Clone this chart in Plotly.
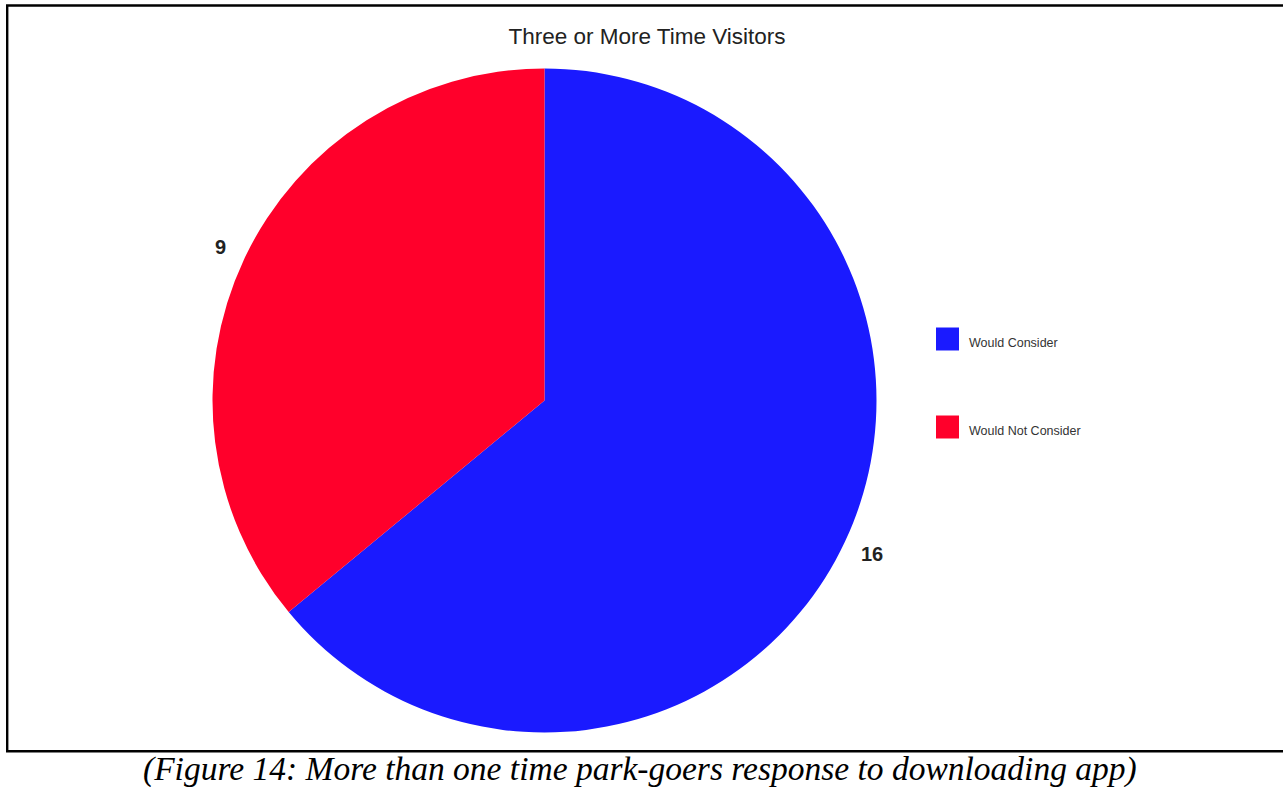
import math
import plotly.graph_objects as go

# Survey responses of three-or-more-time visitors
labels = ["Would Consider", "Would Not Consider"]
values = [16, 9]
colors = ["#1A1AFF", "#FF002B"]

title_text = "Three or More Time Visitors"
caption_text = "(Figure 14: More than one time park-goers response to downloading app)"

SANS = "'Liberation Sans', Arial, sans-serif"
SERIF = "'Liberation Serif', 'Times New Roman', serif"

W, H = 1283, 787


def px(x):
    return x / W


def py(y):
    return 1 - y / H


# pie geometry (pixels)
cx, cy, r = 544.5, 400.5, 332
label_r = 360

fig = go.Figure()
fig.add_trace(go.Pie(
    labels=labels,
    values=values,
    marker=dict(colors=colors, line=dict(width=0)),
    sort=False,
    direction="clockwise",
    rotation=0,
    textinfo="none",
    domain=dict(x=[px(cx - r), px(cx + r)], y=[py(cy + r), py(cy - r)]),
    showlegend=False,
    hoverinfo="label+value+percent",
))

shapes = [
    # frame around the chart
    dict(type="rect", xref="paper", yref="paper",
         x0=px(7.2), x1=1.05, y0=py(751.3), y1=py(5.5),
         line=dict(color="black", width=2.4), fillcolor="rgba(0,0,0,0)", layer="above"),
]
annotations = [
    dict(text=caption_text, xref="paper", yref="paper", x=px(640), y=py(768.5),
         xanchor="center", yanchor="middle", showarrow=False,
         font=dict(family=SERIF, size=33.5, color="black", style="italic")),
]

# value labels just outside each slice, at the slice's middle angle
total = sum(values)
cum = 0
for v in values:
    mid = (cum + v / 2) / total * 2 * math.pi  # clockwise from 12 o'clock
    cum += v
    lx = cx + label_r * math.sin(mid)
    ly = cy - label_r * math.cos(mid)
    annotations.append(dict(text=str(v), xref="paper", yref="paper",
                            x=px(lx + 2), y=py(ly), xanchor="center", yanchor="middle",
                            showarrow=False,
                            font=dict(family=SANS, size=20, color="#222222", weight="bold")))

# legend: swatch plus label for each slice
leg_x, leg_y0, leg_step, sw = 936, 339, 88, 23
for i, (lab, col) in enumerate(zip(labels, colors)):
    yc = leg_y0 + i * leg_step
    shapes.append(dict(type="rect", xref="paper", yref="paper",
                       x0=px(leg_x), x1=px(leg_x + sw), y0=py(yc + sw / 2), y1=py(yc - sw / 2),
                       line=dict(width=0), fillcolor=col))
    annotations.append(dict(text=lab, xref="paper", yref="paper",
                            x=px(leg_x + sw + 8), y=py(yc + 4), xanchor="left", yanchor="middle",
                            showarrow=False,
                            font=dict(family=SANS, size=12.5, color="#333333")))

fig.update_layout(
    width=W, height=H,
    margin=dict(l=0, r=0, t=0, b=0),
    paper_bgcolor="white",
    plot_bgcolor="white",
    title=dict(text=title_text, x=px(647), xanchor="center", y=py(36), yanchor="middle",
               font=dict(family=SANS, size=22.5, color="#222222")),
    shapes=shapes,
    annotations=annotations,
)

fig.write_html("out.html")
